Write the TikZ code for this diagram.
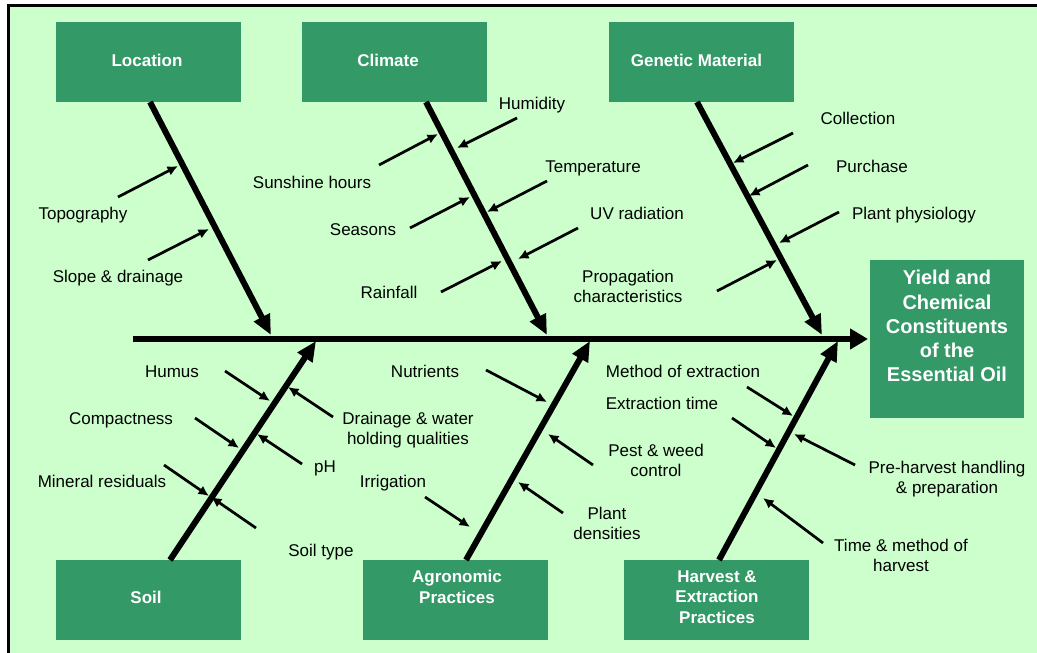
\documentclass[tikz,border=0pt]{standalone}
\usepackage{fontspec}
\setmainfont{Liberation Sans}
\usetikzlibrary{arrows.meta}
\definecolor{paper}{HTML}{CCFFCC}
\definecolor{boxgreen}{HTML}{339966}
\begin{document}
\begin{tikzpicture}[x=1pt,y=-1pt,
  catbox/.style={fill=boxgreen, draw=none, minimum width=185pt, minimum height=80pt,
                 anchor=north west, inner sep=0pt},
  % text nodes are placed by the centre of their last line
  cattext/.style={text=white, font=\fontsize{17}{20.5}\selectfont\bfseries, align=center,
                  inner sep=0pt, text height=12.5pt, text depth=0pt},
  lbl/.style={font=\fontsize{17}{20}\selectfont, align=center, inner sep=0pt,
              text height=12.5pt, text depth=0pt},
  spine/.style={line width=6.5pt, -{Triangle[length=18pt,width=20pt]}},
  branch/.style={line width=6pt, -{Triangle[length=20pt,width=17pt]}},
  cause/.style={line width=2.7pt, -{Latex[length=10.5pt,width=10pt]}},
]
\useasboundingbox (0,0) rectangle (1037,653);
% page and frame
\fill[white] (0,0) rectangle (1037,653);
\fill[paper] (8,5.5) rectangle (1037,653);
\draw[line width=3pt] (8,653) -- (8,5.5) -- (1037,5.5);

% category boxes
\node[catbox] (loc)  at (56,22)   {};
\node[catbox] (clim) at (302,22)  {};
\node[catbox] (gen)  at (609,22)  {};
\node[catbox] (soil) at (56,560)  {};
\node[catbox] (agro) at (363,560) {};
\node[catbox] (harv) at (624,560) {};
\node[fill=boxgreen, minimum width=154pt, minimum height=158pt, inner sep=0pt, anchor=north west]
  (effect) at (870,260) {};

\node[cattext] (locT)  at (147,60)  {Location};
\node[cattext] (climT) at (388,60)  {Climate};
\node[cattext] (genT)  at (696.5,60) {Genetic Material};
\node[cattext] (soilT) at (146,597) {Soil};
\node[cattext] (agroT) at (457,597) {Agronomic\\Practices};
\node[cattext] (harvT) at (717,617) {Harvest \&\\Extraction\\Practices};
\node[cattext, font=\fontsize{20}{24.3}\selectfont\bfseries, text height=14.3pt, text depth=0.5pt]
  (effT) at (947,375) {Yield and\\Chemical\\Constituents\\of the\\Essential Oil};

% spine
\coordinate (spS) at (133,339);
\coordinate (spE) at (868,339);
\draw[spine] (spS) -- (spE);

% main branches
\coordinate (locA) at (150,102);  \coordinate (locB) at (271,335);
\coordinate (climA) at (426,102); \coordinate (climB) at (547,335);
\coordinate (genA) at (697,102);  \coordinate (genB) at (822,335);
\coordinate (soilA) at (170,560); \coordinate (soilB) at (316,341);
\coordinate (agroA) at (466,560); \coordinate (agroB) at (590,341);
\coordinate (harvA) at (719,560); \coordinate (harvB) at (838,341);
\draw[branch] (locA) -- (locB);
\draw[branch] (climA) -- (climB);
\draw[branch] (genA) -- (genB);
\draw[branch] (soilA) -- (soilB);
\draw[branch] (agroA) -- (agroB);
\draw[branch] (harvA) -- (harvB);

% Location causes
\node[lbl] (topo)  at (83,213)  {Topography};
\node[lbl] (slope) at (118,276) {Slope \& drainage};
\coordinate (topo1) at (118,197); \coordinate (topo2) at (178,166);
\coordinate (slope1) at (148,260); \coordinate (slope2) at (209,229);
\draw[cause] (topo1) -- (topo2);
\draw[cause] (slope1) -- (slope2);

% Climate causes
\node[lbl] (sun)   at (312,182) {Sunshine hours};
\node[lbl] (hum)   at (532,103) {Humidity};
\node[lbl] (seas)  at (363,229) {Seasons};
\node[lbl] (temp)  at (593,166) {Temperature};
\node[lbl] (uv)    at (637,213) {UV radiation};
\node[lbl] (rain)  at (389,292) {Rainfall};
\coordinate (sun1) at (379,165);  \coordinate (sun2) at (438,134);
\coordinate (hum1) at (517,118);  \coordinate (hum2) at (457,148);
\coordinate (seas1) at (410,228); \coordinate (seas2) at (470,197);
\coordinate (temp1) at (547,181); \coordinate (temp2) at (487,212);
\coordinate (uv1) at (578,228);   \coordinate (uv2) at (518,259);
\coordinate (rain1) at (441,292); \coordinate (rain2) at (502,261);
\draw[cause] (sun1) -- (sun2);
\draw[cause] (hum1) -- (hum2);
\draw[cause] (seas1) -- (seas2);
\draw[cause] (temp1) -- (temp2);
\draw[cause] (uv1) -- (uv2);
\draw[cause] (rain1) -- (rain2);

% Genetic material causes
\node[lbl] (coll)  at (858,118) {Collection};
\node[lbl] (purch) at (872,166) {Purchase};
\node[lbl] (phys)  at (914,213) {Plant physiology};
\node[lbl] (prop)  at (628,296) {Propagation\\characteristics};
\coordinate (coll1) at (793,133);  \coordinate (coll2) at (733,163);
\coordinate (purch1) at (808,165); \coordinate (purch2) at (749,196);
\coordinate (phys1) at (839,212);  \coordinate (phys2) at (779,243);
\coordinate (prop1) at (717,291);  \coordinate (prop2) at (777,260);
\draw[cause] (coll1) -- (coll2);
\draw[cause] (purch1) -- (purch2);
\draw[cause] (phys1) -- (phys2);
\draw[cause] (prop1) -- (prop2);

% Soil causes
\node[lbl] (humus) at (172,371) {Humus};
\node[lbl] (comp)  at (121,418) {Compactness};
\node[lbl] (mine)  at (102,481) {Mineral residuals};
\node[lbl] (drain) at (408,438) {Drainage \& water\\holding qualities};
\node[lbl] (ph)    at (325,466) {pH};
\node[lbl] (stype) at (321,550) {Soil type};
\coordinate (humus1) at (225,371); \coordinate (humus2) at (270,401);
\coordinate (comp1) at (195,418);  \coordinate (comp2) at (239,448);
\coordinate (mine1) at (164,465);  \coordinate (mine2) at (209,496);
\coordinate (drain1) at (333,417); \coordinate (drain2) at (288,387);
\coordinate (ph1) at (302,464);    \coordinate (ph2) at (257,434);
\coordinate (stype1) at (256,528); \coordinate (stype2) at (211,497);
\draw[cause] (humus1) -- (humus2);
\draw[cause] (comp1) -- (comp2);
\draw[cause] (mine1) -- (mine2);
\draw[cause] (drain1) -- (drain2);
\draw[cause] (ph1) -- (ph2);
\draw[cause] (stype1) -- (stype2);

% Agronomic causes
\node[lbl] (nutr) at (425,371) {Nutrients};
\node[lbl] (irri) at (393,481) {Irrigation};
\node[lbl] (pest) at (656,470) {Pest \& weed\\control};
\node[lbl] (dens) at (607,533) {Plant\\densities};
\coordinate (nutr1) at (486,370); \coordinate (nutr2) at (547,402);
\coordinate (irri1) at (425,497); \coordinate (irri2) at (470,527);
\coordinate (pest1) at (593,465); \coordinate (pest2) at (548,434);
\coordinate (dens1) at (563,513); \coordinate (dens2) at (518,482);
\draw[cause] (nutr1) -- (nutr2);
\draw[cause] (irri1) -- (irri2);
\draw[cause] (pest1) -- (pest2);
\draw[cause] (dens1) -- (dens2);

% Harvest causes
\node[lbl] (meth)  at (683,371) {Method of extraction};
\node[lbl] (etime) at (662,403) {Extraction time};
\node[lbl] (pre)   at (947,487) {Pre-harvest handling\\\& preparation};
\node[lbl] (tmh)   at (901,565) {Time \& method of\\harvest};
\coordinate (meth1) at (747,387);  \coordinate (meth2) at (793,416);
\coordinate (etime1) at (732,418); \coordinate (etime2) at (776,448);
\coordinate (pre1) at (855,465);   \coordinate (pre2) at (794,434);
\coordinate (tmh1) at (823,543);   \coordinate (tmh2) at (763,498);
\draw[cause] (meth1) -- (meth2);
\draw[cause] (etime1) -- (etime2);
\draw[cause] (pre1) -- (pre2);
\draw[cause] (tmh1) -- (tmh2);
\end{tikzpicture}
\end{document}
